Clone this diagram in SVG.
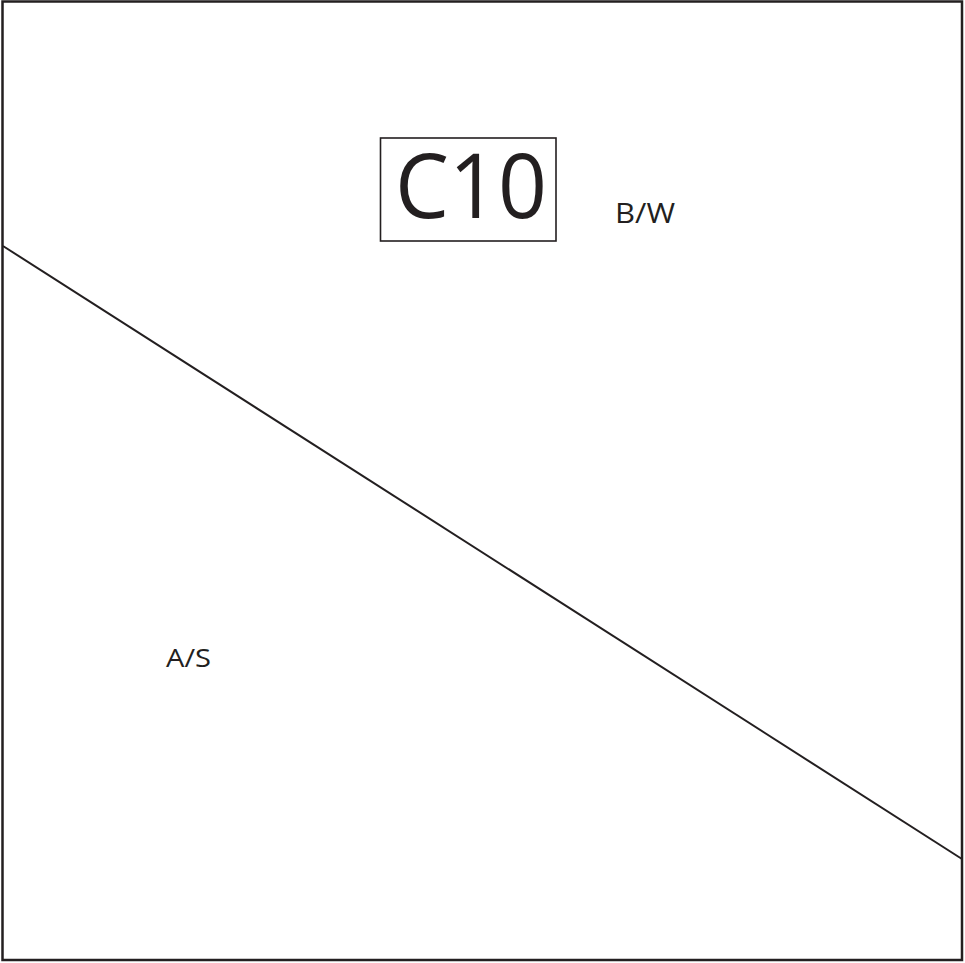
<svg xmlns="http://www.w3.org/2000/svg" width="965" height="963" viewBox="0 0 965 963">
<style>
.ln{stroke:#231f20;fill:none}
.t{font-family:"Open Sans","Liberation Sans",sans-serif;fill:#231f20}
</style>
<rect width="965" height="963" fill="#fff"/>
<g id="frame"><rect class="ln" x="2.5" y="1.5" width="959.5" height="958.5" stroke-width="2.5"/></g>
<g id="connectors"><line class="ln" x1="3" y1="246" x2="962" y2="859" stroke-width="2"/></g>
<g id="C10"><rect class="ln" x="380.5" y="138" width="175.5" height="103" stroke-width="1.6"/>
<text class="t" x="395" y="218" font-size="90" textLength="152" lengthAdjust="spacingAndGlyphs">C10</text></g>
<g id="BW"><text class="t" x="615" y="223" font-size="28" textLength="60" lengthAdjust="spacingAndGlyphs">B/W</text></g>
<g id="AS"><text class="t" x="166" y="667" font-size="26" textLength="45" lengthAdjust="spacingAndGlyphs">A/S</text></g>
</svg>
